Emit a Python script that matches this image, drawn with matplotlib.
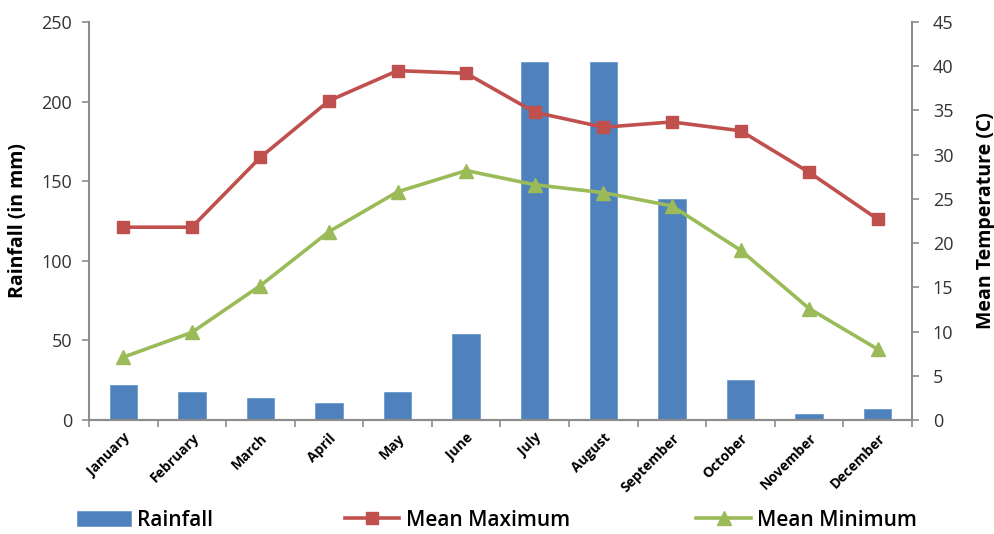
import numpy as np
import matplotlib.pyplot as plt
from matplotlib.ticker import FixedLocator

months = ['January', 'February', 'March', 'April', 'May', 'June', 'July',
          'August', 'September', 'October', 'November', 'December']
rainfall = [22, 17.5, 14, 10.5, 17.5, 54, 225, 225, 139, 25, 4, 7]
mean_max = [21.8, 21.8, 29.7, 36.1, 39.5, 39.2, 34.8, 33.1, 33.7, 32.7, 28.0, 22.7]
mean_min = [7.1, 9.9, 15.2, 21.3, 25.8, 28.2, 26.6, 25.7, 24.2, 19.2, 12.6, 8.0]

plt.rcParams['font.family'] = ['Open Sans', 'DejaVu Sans']
axis_grey = '#8c8c8c'

fig = plt.figure(figsize=(9.95, 5.34), dpi=100)
ax = fig.add_axes([0.0894, 0.2135, 0.8272, 0.7453])
ax2 = ax.twinx()

x = np.arange(len(months))
bars = ax.bar(x, rainfall, width=0.4, color='#4F81BD', edgecolor='#6f9bd0',
              linewidth=0.6, label='Rainfall', zorder=2)
line_max, = ax2.plot(x, mean_max, color='#C0504D', lw=2.6, marker='s',
                     markersize=9, label='Mean Maximum', zorder=3)
line_min, = ax2.plot(x, mean_min, color='#9BBB59', lw=2.6, marker='^',
                     markersize=10, label='Mean Minimum', zorder=3)

ax.set_xlim(-0.5, 11.5)
ax.set_ylim(0, 250)
ax2.set_ylim(0, 45)
ax.set_yticks(range(0, 251, 50))
ax2.set_yticks(range(0, 46, 5))

# ticks between categories, labels at centres
ax.xaxis.set_major_locator(FixedLocator(np.arange(-0.5, 12, 1)))
ax.xaxis.set_minor_locator(FixedLocator(x))
ax.set_xticklabels([])
ax.set_xticklabels(months, minor=True, rotation=45, ha='right',
                   rotation_mode='anchor', fontsize=10, fontweight='bold')
ax.tick_params(axis='x', which='major', length=5, color=axis_grey, width=1.2)
ax.tick_params(axis='x', which='minor', length=0, pad=8)

for a in (ax, ax2):
    a.spines['top'].set_visible(False)
    for s in a.spines.values():
        s.set_color(axis_grey)
        s.set_linewidth(1.5)
    a.tick_params(axis='y', length=5, color=axis_grey, width=1.2,
                  labelsize=13, labelcolor='#333333', pad=7)
ax.spines['right'].set_visible(False)
ax2.spines['left'].set_visible(False)
ax2.tick_params(axis='y', pad=10)

ax.set_ylabel('Rainfall (in mm)', fontsize=14, fontweight='bold', labelpad=10)
ax2.set_ylabel('Mean Temperature (C)', fontsize=14, fontweight='bold', labelpad=16)

# one legend entry per slot along the bottom
for handle, text, xpos in [(bars, 'Rainfall', 0.077),
                           (line_max, 'Mean Maximum', 0.347),
                           (line_min, 'Mean Minimum', 0.70)]:
    fig.legend([handle], [text], loc='center left', bbox_to_anchor=(xpos, 0.026),
               frameon=False, prop={'size': 15, 'weight': 'semibold'},
               handlelength=2.6, handletextpad=0.3, borderpad=0, borderaxespad=0)

fig.savefig('out.png', dpi=100)
